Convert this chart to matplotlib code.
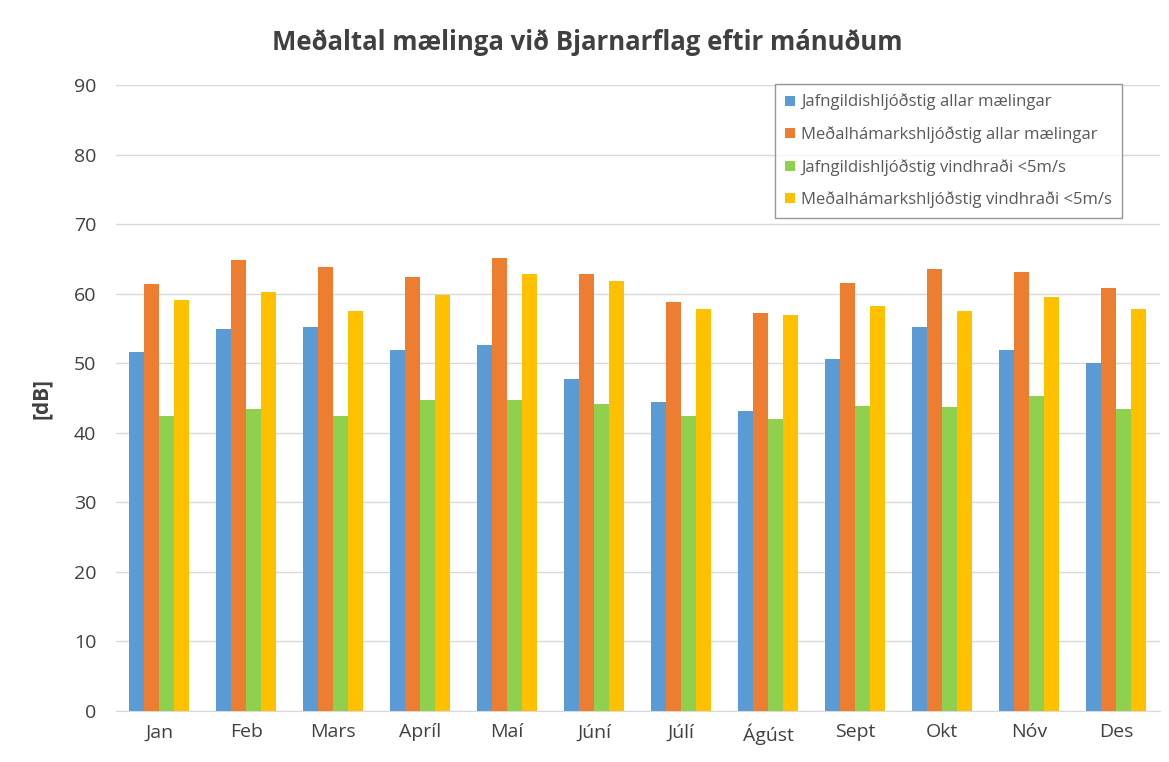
import numpy as np
import matplotlib
matplotlib.use('Agg')
import matplotlib.pyplot as plt

plt.rcParams['font.family'] = ['Open Sans', 'DejaVu Sans']

# mánuðir og gildi (dB) lesin af myndinni
months = ['Jan', 'Feb', 'Mars', 'Apríl', 'Maí', 'Júní', 'Júlí', 'Ágúst', 'Sept', 'Okt', 'Nóv', 'Des']
jafn_allar = [51.6, 54.9, 55.2, 51.9, 52.7, 47.7, 44.5, 43.1, 50.7, 55.2, 51.9, 50.0]
hamark_allar = [61.4, 64.9, 63.8, 62.5, 65.2, 62.9, 58.8, 57.3, 61.5, 63.6, 63.1, 60.9]
jafn_vind = [42.4, 43.4, 42.4, 44.8, 44.7, 44.1, 42.4, 42.0, 43.8, 43.7, 45.3, 43.4]
hamark_vind = [59.1, 60.3, 57.5, 59.9, 62.9, 61.9, 57.8, 56.9, 58.2, 57.5, 59.6, 57.8]

series = [
    ('Jafngildishljóðstig allar mælingar', jafn_allar, '#5B9BD5'),
    ('Meðalhámarkshljóðstig allar mælingar', hamark_allar, '#ED7D31'),
    ('Jafngildishljóðstig vindhraði <5m/s', jafn_vind, '#8FD14F'),
    ('Meðalhámarkshljóðstig vindhraði <5m/s', hamark_vind, '#FFC000'),
]

fig = plt.figure(figsize=(11.69, 7.62), dpi=100)
ax = fig.add_axes([0.099, 0.067, 0.893, 0.821])

x = np.arange(len(months))
w = 0.172
for i, (name, vals, col) in enumerate(series):
    ax.bar(x + (i - 1.5) * w, vals, w, color=col, label=name, zorder=3)

ax.set_ylim(0, 90)
ax.set_xlim(-0.5, len(months) - 0.5)
ax.set_yticks(range(0, 91, 10))
ax.set_xticks(x)
ax.set_xticklabels(months)
ax.tick_params(axis='both', length=0, labelsize=14, colors='#404040')
ax.tick_params(axis='x', pad=9)
ax.tick_params(axis='y', pad=14)
ax.yaxis.grid(True, color='#D9D9D9', linewidth=1, zorder=0)
for s in ['top', 'right', 'left']:
    ax.spines[s].set_visible(False)
ax.spines['bottom'].set_color('#D9D9D9')

ax.set_ylabel('[dB]', fontsize=15, fontweight='bold', color='#404040', labelpad=16)
fig.suptitle('Meðaltal mælinga við Bjarnarflag eftir mánuðum', x=0.502, y=0.962,
             fontsize=18.5, fontweight='bold', color='#404040')

leg = ax.legend(loc='upper right', bbox_to_anchor=(0.972, 1.016), fontsize=12,
                frameon=True, fancybox=False, edgecolor='#7F7F7F',
                handlelength=0.55, handleheight=0.55, handletextpad=0.4,
                labelspacing=0.95, borderpad=0.6, labelcolor='#595959')
leg.get_frame().set_linewidth(1)

fig.savefig('out.png', dpi=100)
